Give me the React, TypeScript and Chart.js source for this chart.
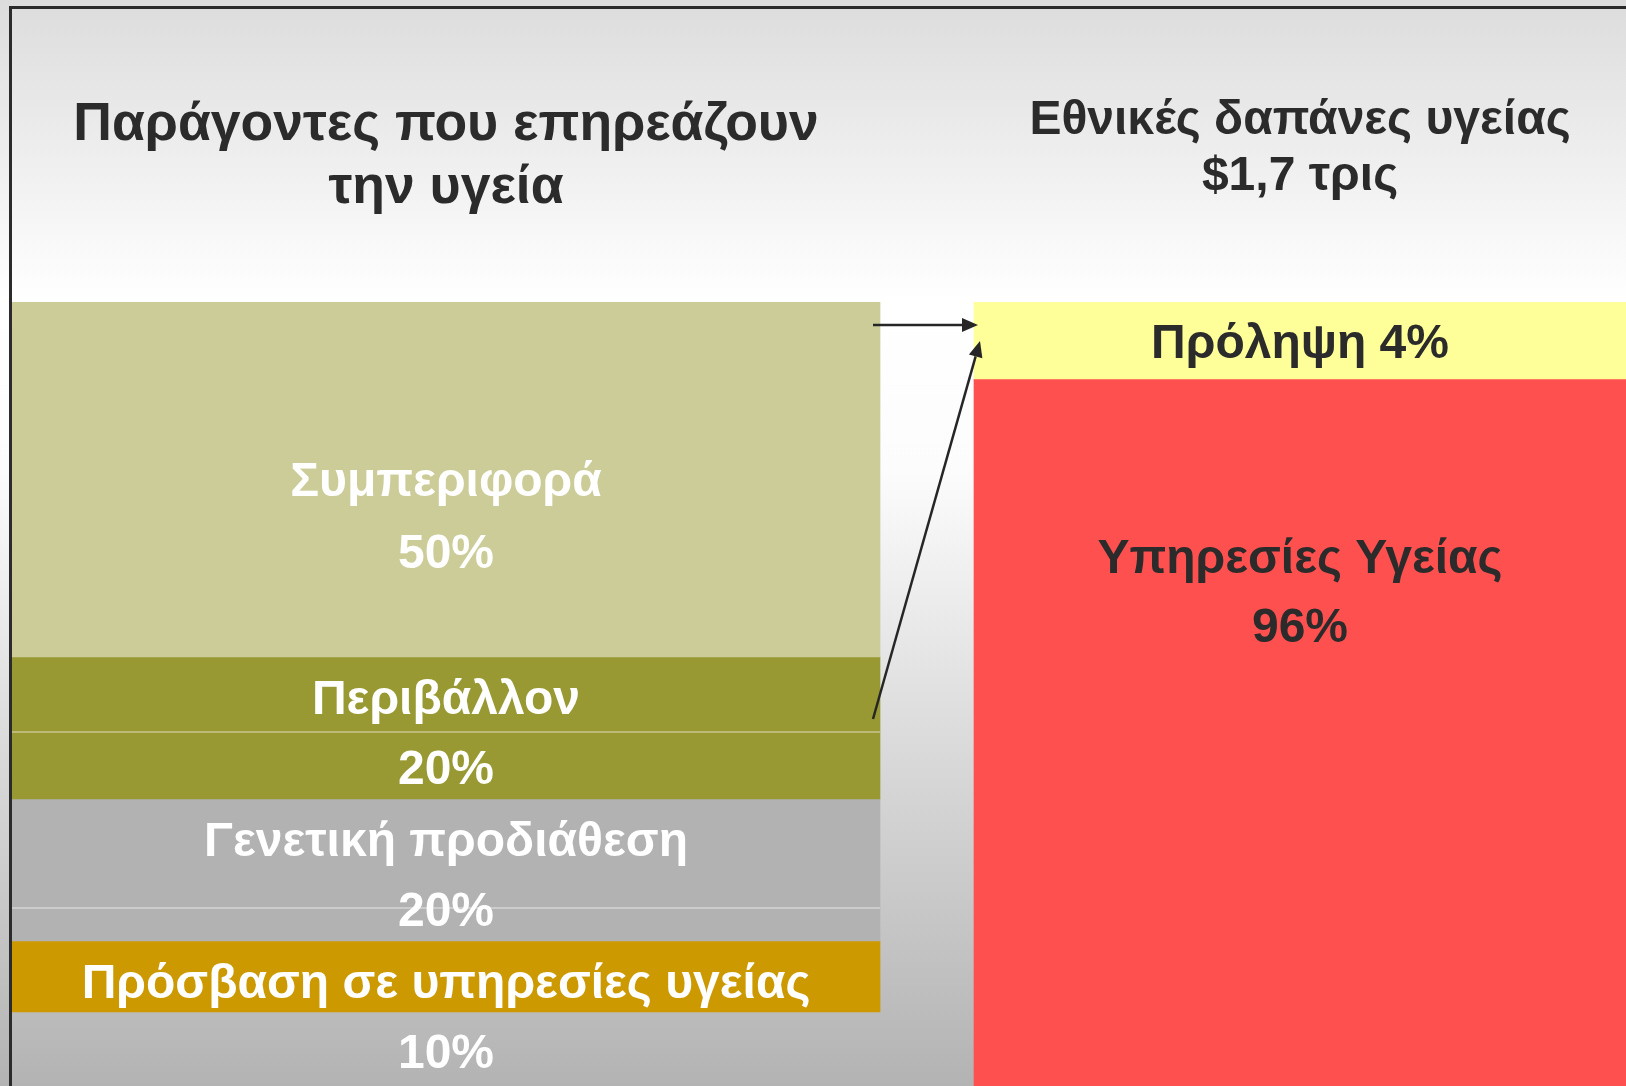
import { useEffect, useRef } from "react";
import { Chart, registerables } from "chart.js";

Chart.register(...registerables);

// ---- data ----
const factorTitle = ["Παράγοντες που επηρεάζουν", "την υγεία"];
const spendTitle = ["Εθνικές δαπάνες υγείας", "$1,7 τρις"];
const factorLabels = ["Συμπεριφορά", "Περιβάλλον", "Γενετική προδιάθεση", "Πρόσβαση σε υπηρεσίες υγείας"];
const factorValues = [50, 20, 20, 10];
const spendLabels = ["Πρόληψη", "Υπηρεσίες Υγείας"];
const spendValues = [4, 96];

// ---- styles ----
const factorColors = ["#cccc99", "#999933", "#b2b2b2", "#cc9900"];
const spendColors = ["#ffff99", "#ff5050"];
const FONT = '"Liberation Sans", Arial, sans-serif';
const W = 1626;
const H = 1086;
const LEFT_CENTER = 446;
const RIGHT_CENTER = 1300;
const UNIT = RIGHT_CENTER - LEFT_CENTER;
const PLOT_TOP = 302;
const factorAxisMax = (H - PLOT_TOP) / 7.1;
const spendAxisMax = (H - PLOT_TOP) / 19.25;

const bgPlugin = {
  id: "bgGradient",
  beforeDraw(chart: any) {
    const { ctx } = chart;
    const g = ctx.createLinearGradient(0, 0, 0, H);
    g.addColorStop(0, "#dcdcdc");
    g.addColorStop(300 / H, "#ffffff");
    g.addColorStop(470 / H, "#fcfcfc");
    g.addColorStop(730 / H, "#dcdcdc");
    g.addColorStop(1, "#b3b3b3");
    ctx.save();
    ctx.fillStyle = g;
    ctx.fillRect(0, 0, W, H);
    ctx.restore();
  },
};

function rect(chart: any, i: number) {
  const el: any = chart.getDatasetMeta(i).data[0];
  const top = Math.min(el.y, el.base);
  const bottom = Math.max(el.y, el.base);
  return { x: el.x, top, bottom, left: el.x - el.width / 2, right: el.x + el.width / 2 };
}

function arrow(ctx: CanvasRenderingContext2D, x1: number, y1: number, x2: number, y2: number) {
  const ang = Math.atan2(y2 - y1, x2 - x1);
  const len = 16;
  const hw = 7;
  const bx = x2 - len * Math.cos(ang);
  const by = y2 - len * Math.sin(ang);
  ctx.beginPath();
  ctx.moveTo(x1, y1);
  ctx.lineTo(bx, by);
  ctx.stroke();
  ctx.beginPath();
  ctx.moveTo(x2, y2);
  ctx.lineTo(bx + hw * Math.sin(ang), by - hw * Math.cos(ang));
  ctx.lineTo(bx - hw * Math.sin(ang), by + hw * Math.cos(ang));
  ctx.closePath();
  ctx.fill();
}

const overlayPlugin = {
  id: "overlay",
  afterDraw(chart: any) {
    const { ctx } = chart;
    const ds = chart.data.datasets;
    ctx.save();

    // row rules inside cells
    ctx.strokeStyle = "rgba(255,255,255,0.45)";
    ctx.lineWidth = 1.5;
    ds.forEach((d: any, i: number) => {
      if (d.ruleOffset == null) return;
      const r = rect(chart, i);
      ctx.beginPath();
      ctx.moveTo(r.left, r.top + d.ruleOffset);
      ctx.lineTo(r.right, r.top + d.ruleOffset);
      ctx.stroke();
    });

    // segment labels
    ctx.textAlign = "center";
    ctx.textBaseline = "alphabetic";
    ds.forEach((d: any, i: number) => {
      const r = rect(chart, i);
      const v = d.data[0].y;
      const lines = d.inlineLabel ? [`${d.label} ${v}%`] : [d.label, `${v}%`];
      ctx.fillStyle = d.labelColor;
      ctx.font = `bold 48px ${FONT}`;
      lines.forEach((t: string, k: number) => {
        ctx.fillText(t, r.x, r.top + d.labelOffset + k * d.lineGap);
      });
    });

    // titles
    const lr = rect(chart, 0);
    const rr = rect(chart, factorLabels.length);
    ctx.fillStyle = "#2b2b2b";
    ctx.font = `bold 53.5px ${FONT}`;
    ctx.fillText(factorTitle[0], lr.x, 140);
    ctx.fillText(factorTitle[1], lr.x, 203);
    ctx.font = `bold 48px ${FONT}`;
    ctx.fillText(spendTitle[0], rr.x, 134);
    ctx.fillText(spendTitle[1], rr.x, 190);

    // arrows
    const env = rect(chart, 1);
    ctx.strokeStyle = "#262626";
    ctx.fillStyle = "#262626";
    ctx.lineWidth = 2.5;
    arrow(ctx, lr.right - 7, rr.top + 23, rr.left + 4, rr.top + 23);
    arrow(ctx, lr.right - 7, env.top + 62, rr.left + 6, rr.top + 39);

    // slide frame
    ctx.fillStyle = "#2b2b2b";
    ctx.fillRect(9, 6, 3, H - 6);
    ctx.fillRect(9, 6, W - 9, 3);
    ctx.restore();
  },
};

export default function App() {
  const ref = useRef<HTMLCanvasElement | null>(null);

  useEffect(() => {
    if (!ref.current) return;
    const datasets: any[] = [
      ...factorLabels.map((name, i) => ({
        label: name,
        data: [{ x: 0, y: factorValues[i] }],
        backgroundColor: factorColors[i],
        borderWidth: 0,
        barThickness: 868,
        xAxisID: "x",
        yAxisID: "yl",
        labelColor: "#ffffff",
        labelOffset: i === 0 ? 194 : 57,
        lineGap: i === 0 ? 72 : 70,
        ruleOffset: i === 1 ? 75 : i === 2 ? 109 : null,
        inlineLabel: false,
      })),
      ...spendLabels.map((name, i) => ({
        label: name,
        data: [{ x: 1, y: spendValues[i] }],
        backgroundColor: spendColors[i],
        borderWidth: 0,
        barThickness: 652,
        xAxisID: "x",
        yAxisID: "yr",
        labelColor: "#2b2b2b",
        labelOffset: i === 0 ? 56 : 194,
        lineGap: 69,
        ruleOffset: null,
        inlineLabel: i === 0,
      })),
    ];

    const chart = new Chart(ref.current, {
      type: "bar",
      data: { datasets },
      options: {
        animation: false,
        responsive: false,
        devicePixelRatio: 1,
        layout: { padding: { top: PLOT_TOP, left: 0, right: 0, bottom: 0 } },
        plugins: { legend: { display: false }, tooltip: { enabled: false }, title: { display: false } },
        scales: {
          x: {
            type: "linear",
            display: false,
            offset: false,
            bounds: "data",
            stacked: true,
            min: -LEFT_CENTER / UNIT,
            max: (W - LEFT_CENTER) / UNIT,
          },
          yl: {
            type: "linear",
            display: false,
            reverse: true,
            stacked: true,
            bounds: "data",
            min: 0,
            max: factorAxisMax,
          },
          yr: {
            type: "linear",
            display: false,
            reverse: true,
            stacked: true,
            bounds: "data",
            min: 0,
            max: spendAxisMax,
          },
        },
      } as any,
      plugins: [bgPlugin, overlayPlugin],
    });
    return () => chart.destroy();
  }, []);

  return (
    <div style={{ position: "fixed", left: 0, top: 0, width: W, height: H }}>
      <canvas ref={ref} width={W} height={H} style={{ display: "block", width: W, height: H }} />
    </div>
  );
}
